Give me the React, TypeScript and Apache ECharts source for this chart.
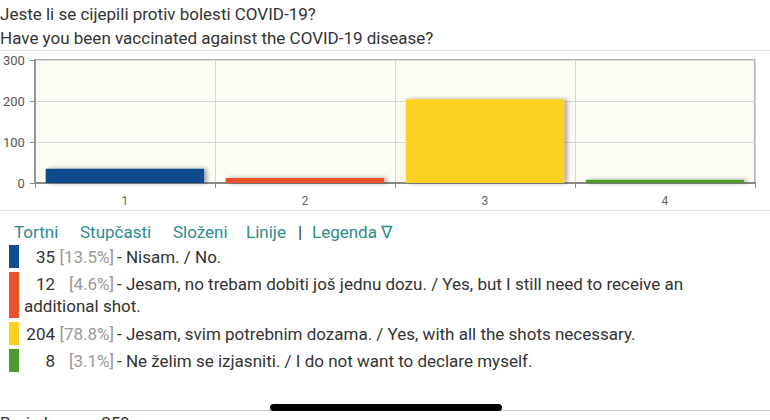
import * as echarts from "echarts";
import { useEffect, useRef } from "react";

const titleLines = [
  "Jeste li se cijepili protiv bolesti COVID-19?",
  "Have you been vaccinated against the COVID-19 disease?",
];
const categories = ["1", "2", "3", "4"];
const votes = [35, 12, 204, 8];
const barColors = ["#0f4c8d", "#ea5128", "#fdd121", "#4f9a2f"];
const answerLines = [
  ["- Nisam. / No."],
  ["- Jesam, no trebam dobiti još jednu dozu. / Yes, but I still need to receive an", "additional shot."],
  ["- Jesam, svim potrebnim dozama. / Yes, with all the shots necessary."],
  ["- Ne želim se izjasniti. / I do not want to declare myself."],
];
const viewLinks = ["Tortni", "Stupčasti", "Složeni", "Linije", "|", "Legenda ∇"];
const yTicks = [0, 100, 200, 300];

const FONT = "Roboto, 'Noto Sans', sans-serif";
const FS = 17;

const App = () => {
  const chartRef = useRef<HTMLDivElement | null>(null);

  useEffect(() => {
    const chart = echarts.init(chartRef.current!, null, { renderer: "svg" });
    const total = votes.reduce((a, b) => a + b, 0);

    // texte au-dessus du graphique
    const graphics: any[] = titleLines.map((t, i) => ({
      type: "text",
      x: 0,
      y: 14 + i * 23.5,
      style: { text: t, fontSize: FS, fontFamily: FONT, fill: "#333", verticalAlign: "middle" },
    }));

    graphics.push(
      { type: "line", shape: { x1: 0, y1: 50.5, x2: 770, y2: 50.5 }, style: { stroke: "#ddd", lineWidth: 1 } },
      { type: "line", shape: { x1: 0, y1: 210.5, x2: 770, y2: 210.5 }, style: { stroke: "#ddd", lineWidth: 1 } },
      { type: "line", shape: { x1: 0, y1: 410.5, x2: 770, y2: 410.5 }, style: { stroke: "#ccc", lineWidth: 1 } }
    );

    // liens (Tortni, Stupčasti ...)
    const linkX = [14, 80, 173, 246, 298, 312];
    viewLinks.forEach((t, i) => {
      graphics.push({
        type: "text",
        x: linkX[i],
        y: 232,
        style: {
          text: t,
          fontSize: FS,
          fontFamily: FONT,
          fill: t === "|" ? "#333" : "#2b8c8e",
          verticalAlign: "middle",
        },
      });
    });

    // légende avec valeurs et pourcentages
    let cursor = 245;
    votes.forEach((v, i) => {
      const lines = answerLines[i];
      const h = lines.length * 23;
      const pct = ((v / total) * 100).toFixed(1);
      graphics.push({
        type: "rect",
        shape: { x: 9, y: cursor, width: 10, height: h },
        style: { fill: barColors[i] },
      });
      graphics.push({
        type: "text",
        x: 55,
        y: cursor + 12,
        style: { text: String(v), fontSize: FS, fontFamily: FONT, fill: "#333", align: "right", verticalAlign: "middle" },
      });
      graphics.push({
        type: "text",
        x: 114,
        y: cursor + 12,
        style: { text: `[${pct}%]`, fontSize: FS, fontFamily: FONT, fill: "#999", align: "right", verticalAlign: "middle" },
      });
      lines.forEach((l, j) => {
        graphics.push({
          type: "text",
          x: j === 0 ? 117 : 24,
          y: cursor + 12 + j * 22,
          style: { text: l, fontSize: FS, fontFamily: FONT, fill: "#333", verticalAlign: "middle" },
        });
      });
      cursor += h + 4;
    });

    graphics.push(
      {
        type: "rect",
        shape: { x: 270, y: 404, width: 232, height: 7, r: 3.5 },
        style: { fill: "#000" },
      },
      {
        type: "text",
        left: 0,
        top: 414,
        style: { text: `Broj glasova: ${total}`, fontSize: FS, fontFamily: FONT, fill: "#333" },
      }
    );

    const option = {
      animation: false,
      backgroundColor: "#fff",
      grid: {
        left: 32,
        right: 15,
        top: 60,
        bottom: 237,
        show: true,
        backgroundColor: "#fcfbf4",
        borderColor: "#999",
        borderWidth: 1.5,
      },
      xAxis: {
        type: "category",
        data: categories,
        axisLine: { lineStyle: { color: "#888", width: 2 } },
        axisTick: { show: true, length: 5, lineStyle: { color: "#888" } },
        splitLine: { show: true, lineStyle: { color: "#d6d6d6" } },
        axisLabel: { color: "#666", fontSize: 12, fontFamily: FONT, margin: 12 },
      },
      yAxis: {
        type: "value",
        min: yTicks[0],
        max: yTicks[yTicks.length - 1],
        interval: 100,
        axisLine: { show: true, lineStyle: { color: "#888", width: 1.5 } },
        axisTick: { show: true, length: 5, lineStyle: { color: "#888" } },
        splitLine: { lineStyle: { color: "#d6d6d6" } },
        axisLabel: { color: "#555", fontSize: 13, fontFamily: FONT, margin: 10 },
      },
      series: [
        {
          type: "bar",
          barWidth: "88%",
          data: votes.map((v, i) => ({ value: v, itemStyle: { color: barColors[i] } })),
          itemStyle: {
            shadowColor: "rgba(0,0,0,0.35)",
            shadowBlur: 4,
            shadowOffsetX: 3,
            shadowOffsetY: 0,
          },
        },
      ],
      graphic: graphics,
    };

    chart.setOption(option);

    return () => {
      chart.dispose();
    };
  }, []);

  return (
    <div
      ref={chartRef}
      style={{ position: "fixed", left: 0, top: 0, width: "770px", height: "420px", background: "#fff" }}
    />
  );
};

export default App;
